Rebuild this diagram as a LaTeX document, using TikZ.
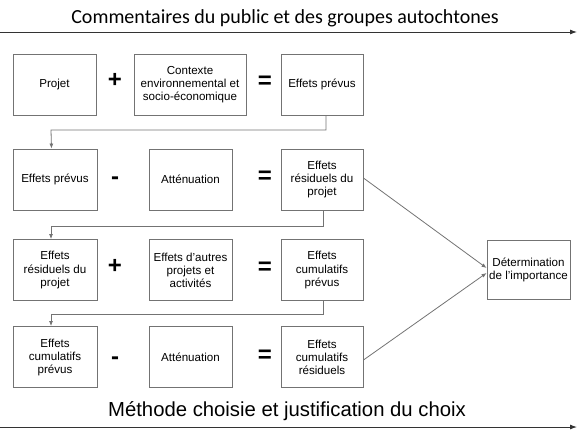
\documentclass[tikz,border=0pt]{standalone}
\usepackage{fontspec}
\setmainfont{Liberation Sans}
\newfontfamily\calib{Carlito}
\usetikzlibrary{arrows.meta}
\begin{document}
\begin{tikzpicture}[x=1pt,y=-1pt,
  box/.style={draw=black!55,line width=0.9pt,fill=white,align=center,inner sep=1pt,
    minimum height=61pt,font=\fontsize{11.6}{13}\selectfont},
  sign/.style={font=\fontsize{24}{24}\selectfont\bfseries,inner sep=0pt},
  link/.style={draw=black!55,line width=0.8pt,-{Latex[length=5pt,width=4pt]}},
  axis/.style={draw=black!80,line width=0.9pt,-{Latex[length=7pt,width=5pt]}}]
\useasboundingbox (0,0) rectangle (580,442);
% top axis
\coordinate (t0) at (0,32);
\coordinate (t1) at (577,32);
\draw[axis] (t0) -- (t1);
\node[font=\calib\fontsize{20}{21}\selectfont] (ttitle) at (285,18) {Commentaires du public et des groupes autochtones};
% bottom axis
\coordinate (b0) at (0,427);
\coordinate (b1) at (577,427);
\draw[axis] (b0) -- (b1);
\node[font=\fontsize{20.3}{21}\selectfont] (btitle) at (287,411) {Méthode choisie et justification du choix};
% row 1
\node[box,minimum width=83pt] (r1a) at (54.5,84.5) {Projet};
\node[sign] (r1p) at (115,80) {+};
\node[box,minimum width=112pt] (r1b) at (190,84.5) {Contexte\\environnemental et\\socio-économique};
\node[sign] (r1e) at (265,82) {=};
\node[box,minimum width=82pt] (r1c) at (322,84.5) {Effets prévus};
% row 2
\node[box,minimum width=84pt] (r2a) at (55,179.5) {Effets prévus};
\node[sign] (r2m) at (115,181) {-};
\node[box,minimum width=83pt] (r2b) at (190.5,179.5) {Atténuation};
\node[sign] (r2e) at (265,177) {=};
\node[box,minimum width=82pt] (r2c) at (322,179.5) {Effets\\résiduels du\\projet};
% row 3
\node[box,minimum width=84pt] (r3a) at (55,270) {Effets\\résiduels du\\projet};
\node[sign] (r3p) at (115,266) {+};
\node[box,minimum width=83pt] (r3b) at (190.5,270) {Effets d'autres\\projets et\\activités};
\node[sign] (r3e) at (265,268) {=};
\node[box,minimum width=82pt] (r3c) at (322,270) {Effets\\cumulatifs\\prévus};
% row 4
\node[box,minimum width=84pt] (r4a) at (55,357) {Effets\\cumulatifs\\prévus};
\node[sign] (r4m) at (115,361) {-};
\node[box,minimum width=83pt] (r4b) at (190.5,357) {Atténuation};
\node[sign] (r4e) at (265,356) {=};
\node[box,minimum width=82pt] (r4c) at (322,357) {Effets\\cumulatifs\\résiduels};
% right box
\node[box,minimum width=83pt,minimum height=59pt] (det) at (528.5,269.5) {Détermination\\de l'importance};
% elbow connectors
\draw[link] ([xshift=4pt]r1c.south) |- (51,130) -- ([xshift=-3.5pt]r2a.north);
\draw[link] ([xshift=1pt]r2c.south) |- (51,226) -- ([xshift=-4pt]r3a.north);
\draw[link] ([xshift=1pt]r3c.south) |- (51,314) -- ([xshift=-4pt]r4a.north);
% to determination
\draw[link] ([yshift=1.5pt]r2c.east) -- ([yshift=1.5pt]det.west);
\draw[link] ([yshift=-3pt]r4c.east) -- ([yshift=-3.5pt]det.west);
\end{tikzpicture}
\end{document}
